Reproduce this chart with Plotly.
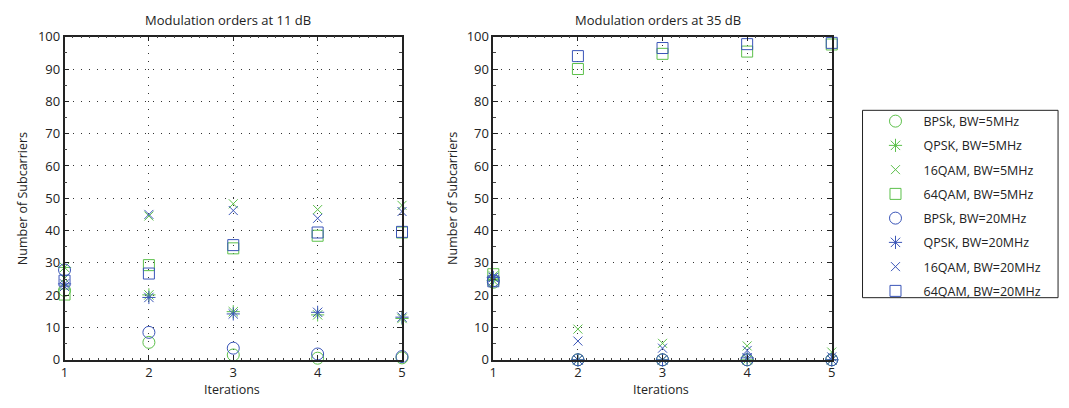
import plotly.graph_objects as go

iterations = [1, 2, 3, 4, 5]

# Left panel: 11 dB
bpsk5_11 = [21.5, 5.4, 1.5, 0.5, 0.6]
qpsk5_11 = [28.6, 20.1, 14.9, 13.9, 12.8]
qam16_5_11 = [25.2, 44.5, 48.3, 46.5, 47.8]
qam64_5_11 = [20.2, 29.3, 34.5, 38.4, 39.4]
bpsk20_11 = [27.8, 8.5, 3.6, 1.8, 1.0]
qpsk20_11 = [23.5, 19.3, 14.2, 14.7, 13.2]
qam16_20_11 = [22.7, 45.0, 46.2, 43.8, 45.9]
qam64_20_11 = [24.5, 26.7, 35.5, 39.4, 39.6]

# Right panel: 35 dB
bpsk5_35 = [24.0, 0, 0, 0, 0]
qpsk5_35 = [24.5, 0, 0, 0, 0]
qam16_5_35 = [26.0, 9.5, 5.1, 4.3, 2.4]
qam64_5_35 = [26.5, 90.0, 94.7, 95.4, 97.6]
bpsk20_35 = [24.5, 0, 0, 0, 0]
qpsk20_35 = [25.5, 0, 0, 0.6, 0]
qam16_20_35 = [25.5, 5.8, 3.6, 2.9, 0.9]
qam64_20_35 = [24.3, 94.0, 96.5, 97.7, 98.1]

names = ["BPSk, BW=5MHz", "QPSK, BW=5MHz", "16QAM, BW=5MHz", "64QAM, BW=5MHz",
         "BPSk, BW=20MHz", "QPSK, BW=20MHz", "16QAM, BW=20MHz", "64QAM, BW=20MHz"]
left = [bpsk5_11, qpsk5_11, qam16_5_11, qam64_5_11, bpsk20_11, qpsk20_11, qam16_20_11, qam64_20_11]
right = [bpsk5_35, qpsk5_35, qam16_5_35, qam64_5_35, bpsk20_35, qpsk20_35, qam16_20_35, qam64_20_35]

GREEN = "#5cc04a"
BLUE = "#3a55b8"
colors = [GREEN] * 4 + [BLUE] * 4
symbols = ["circle-open", "asterisk-open", "x-thin-open", "square-open"] * 2
sizes = [12, 11, 9, 11] * 2

fig = go.Figure()
for i in range(8):
    m = dict(symbol=symbols[i], size=sizes[i], color=colors[i],
             line=dict(width=1, color=colors[i]))
    fig.add_trace(go.Scatter(x=iterations, y=left[i], mode="markers", marker=m,
                             name=names[i], legendgroup=names[i], showlegend=True,
                             xaxis="x", yaxis="y", cliponaxis=False))
    fig.add_trace(go.Scatter(x=iterations, y=right[i], mode="markers", marker=m,
                             name=names[i], legendgroup=names[i], showlegend=False,
                             xaxis="x2", yaxis="y2", cliponaxis=False))

FONT = "Open Sans"
H = 408.0
W = 1069.0
ydom = [1 - 367 / H, 1 - 29 / H]
TXT = "#222"

def xax(domain, anchor):
    return dict(domain=domain, anchor=anchor, range=[1, 5], tickvals=iterations,
                showgrid=True, gridcolor="#333", griddash="1px,7px", gridwidth=1,
                showline=True, linecolor="#222", linewidth=1.5, mirror="ticks",
                ticks="inside", ticklen=5, tickcolor="#222",
                minor=dict(dtick=0.1, ticklen=2, ticks="inside", tickcolor="#444", showgrid=False),
                zeroline=False, tickfont=dict(size=13, color=TXT, family=FONT))

def yax(domain, anchor):
    return dict(domain=domain, anchor=anchor, range=[0, 100], dtick=10,
                showgrid=True, gridcolor="#333", griddash="1px,7px", gridwidth=1,
                showline=True, linecolor="#222", linewidth=1.5, mirror="ticks",
                ticks="inside", ticklen=5, tickcolor="#222",
                minor=dict(dtick=5, ticklen=3, ticks="inside", tickcolor="#444", showgrid=False),
                zeroline=False, tickfont=dict(size=13, color=TXT, family=FONT))

fig.update_layout(
    width=1069, height=408,
    margin=dict(l=0, r=0, t=0, b=0),
    paper_bgcolor="white", plot_bgcolor="white",
    font=dict(family=FONT, size=12, color=TXT),
    xaxis=xax([61 / W, 401 / W], "y"),
    yaxis=yax(ydom, "x"),
    xaxis2=xax([493 / W, 834 / W], "y2"),
    yaxis2=yax(ydom, "x2"),
    legend=dict(x=870 / W, y=1 - 102 / H, xanchor="left", yanchor="top",
                borderwidth=0, bgcolor="rgba(0,0,0,0)",
                font=dict(size=12.5, family=FONT, color=TXT),
                tracegroupgap=5, itemwidth=46),
    showlegend=True,
)

# legend frame
fig.add_shape(type="rect", xref="paper", yref="paper",
              x0=865 / W, x1=1062 / W, y0=1 - 302 / H, y1=1 - 106 / H,
              line=dict(color="#222", width=1), fillcolor="rgba(0,0,0,0)", layer="below")

ann = [
    dict(text="Modulation orders at 11 dB", x=226 / W, y=1 - 12 / H),
    dict(text="Modulation orders at 35 dB", x=659 / W, y=1 - 12 / H),
    dict(text="Iterations", x=229.5 / W, y=1 - 398 / H),
    dict(text="Iterations", x=662 / W, y=1 - 398 / H),
    dict(text="Number of Subcarriers", x=18 / W, y=1 - 198 / H, textangle=-90),
    dict(text="Number of Subcarriers", x=452 / W, y=1 - 198 / H, textangle=-90),
]
for a in ann:
    fig.add_annotation(xref="paper", yref="paper", showarrow=False,
                       xanchor="center", yanchor="middle",
                       font=dict(size=13 if "Modulation" in a["text"] else 12.5,
                                 family=FONT, color=TXT), **a)

fig.write_html("out.html")
